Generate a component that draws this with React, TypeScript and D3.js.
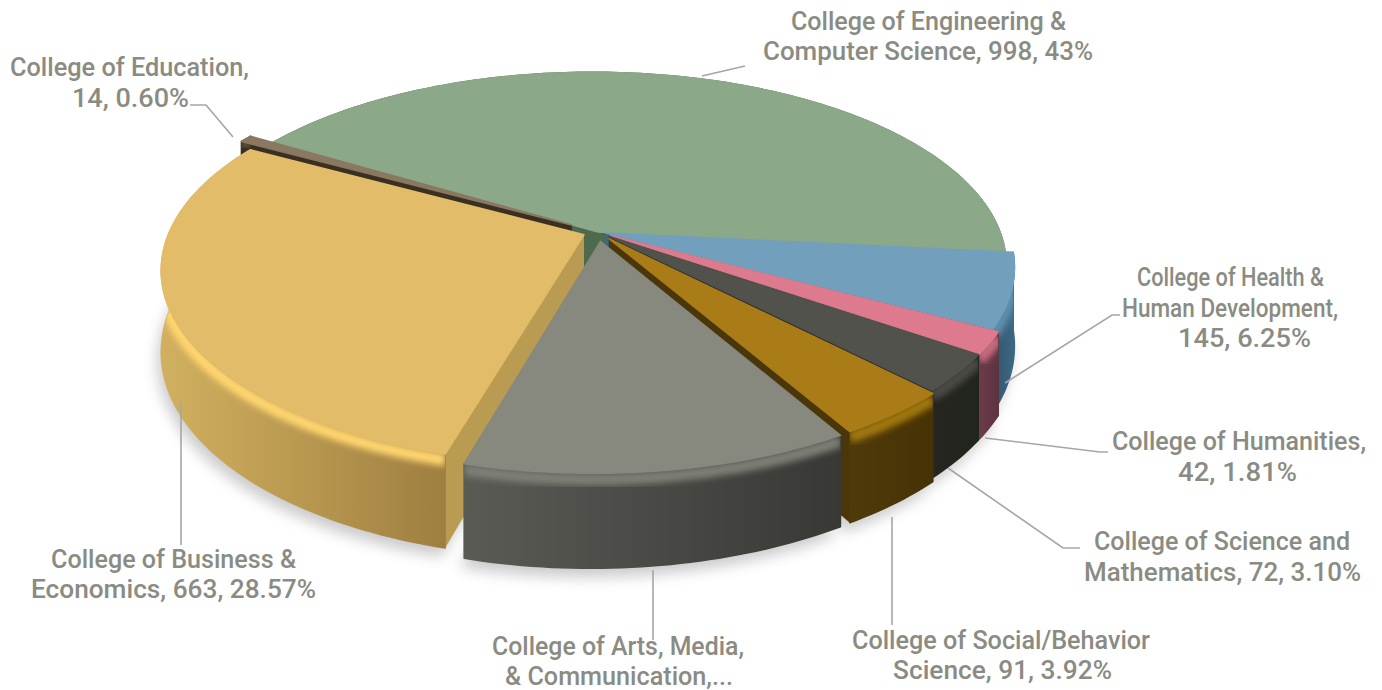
import React from "react";
import * as d3 from "d3";

const categories = [
  "College of Engineering & Computer Science",
  "College of Health & Human Development",
  "College of Humanities",
  "College of Science and Mathematics",
  "College of Social/Behavior Science",
  "College of Arts, Media, & Communication",
  "College of Business & Economics",
  "College of Education",
];
const values = [998, 145, 42, 72, 91, 295, 663, 14];
const topColors = ["#8ba888", "#72a0bc", "#de7a8e", "#50524b", "#a97c18", "#87887e", "#e2bc68", "#8a7860"];
const wallLeft = ["#4d6a4c", "#31556e", "#6c3c4a", "#24261f", "#4f3a0a", "#5a5b55", "#d2b060", "#3a3022"];
const wallRight = ["#4d6a4c", "#3c6883", "#5c3340", "#22241e", "#473206", "#383835", "#9f7f40", "#3a3022"];
const radialColors = ["#4d6a4c", "#3c6883", "#5c3340", "#25282a", "#4a3608", "#3f4f48", "#b99b52", "#3a3022"];
const rimColors = ["#7e9a7c", "#5f90ad", "#c96c80", "#4a4c45", "#a27810", "#7e7f76", "#ffd66e", "#5a4c3c"];
const explode = [0, 0.02, 0.035, 0.035, 0.045, 0.05, 0.037, 0.075];
const drawOrder = [0, 7, 1, 2, 3, 4, 6, 5];

const labels = [
  { lines: ["College of Engineering &", "Computer Science, 998, 43%"], spans: [[791, 1066], [763, 1093]], base: [30, 60] },
  { lines: ["College of Education,", "14, 0.60%"], spans: [[10, 249], [72, 189]], base: [76, 107] },
  { lines: ["College of Health &", "Human Development,", "145, 6.25%"], spans: [[1137, 1324], [1122, 1338], [1178, 1311]], base: [286, 317, 347] },
  { lines: ["College of Humanities,", "42, 1.81%"], spans: [[1112, 1366], [1178, 1297]], base: [450, 481] },
  { lines: ["College of Science and", "Mathematics, 72, 3.10%"], spans: [[1094, 1350], [1084, 1361]], base: [550, 581] },
  { lines: ["College of Social/Behavior", "Science, 91, 3.92%"], spans: [[852, 1150], [893, 1112]], base: [649, 679] },
  { lines: ["College of Arts, Media,", "& Communication,..."], spans: [[492, 744], [505, 733]], base: [655, 685] },
  { lines: ["College of Business &", "Economics, 663, 28.57%"], spans: [[51, 296], [31, 316]], base: [568, 598] },
];
const leaders: [number, number][][] = [
  [[702, 76], [745, 66]],
  [[190, 105], [206, 105], [233, 137]],
  [[1005, 383], [1112, 315], [1120, 315]],
  [[985, 438], [1100, 452], [1108, 452]],
  [[948, 468], [1063, 548], [1080, 548]],
  [[892, 517], [892, 625]],
  [[653, 570], [653, 640]],
  [[181, 402], [181, 545]],
];

const CX = 598, CY = 232, R = 408, K = 0.46, S = 0.175, T = 0.015, H = 0.19;
const START = (-59 * Math.PI) / 180;

type P = [number, number];
function project(x: number, y: number, z: number): P {
  const w = 1 + S * y + T * x;
  return [CX + (R * x) / w, CY - (R * (K * y + z)) / w];
}

const line = d3.line<P>();

export default function App() {
  const arcs = d3.pie<number>().sort(null).startAngle(START).endAngle(START + 2 * Math.PI)(values);

  const geo = arcs.map((a, i) => {
    const mid = (a.startAngle + a.endAngle) / 2;
    const ex = explode[i] * Math.sin(mid);
    const ey = explode[i] * Math.cos(mid);
    const n = Math.max(4, Math.ceil((a.endAngle - a.startAngle) / 0.02));
    const angles = d3.range(n + 1).map((j) => a.startAngle + ((a.endAngle - a.startAngle) * j) / n);
    const at = (t: number, z: number) => project(ex + Math.sin(t), ey + Math.cos(t), z);
    const topArc = angles.map((t) => at(t, 0));
    const botArc = angles.map((t) => at(t, -H));
    const rimArc = angles.map((t) => at(t, -0.012));
    const apexT = project(ex, ey, 0);
    const apexB = project(ex, ey, -H);
    const xs = topArc.map((p) => p[0]);
    return { i, topArc, botArc, rimArc, apexT, apexB, x0: d3.min(xs)!, x1: d3.max(xs)! };
  });

  return (
    <svg width={1382} height={690} style={{ position: "absolute", left: 0, top: 0, background: "#fff" }}>
      <defs>
        <filter id="shadow" x="-20%" y="-20%" width="140%" height="140%">
          <feGaussianBlur stdDeviation="7" />
        </filter>
        <filter id="rim" x="-20%" y="-20%" width="140%" height="140%">
          <feGaussianBlur stdDeviation="3.2" />
        </filter>
        {geo.map((g) => (
          <linearGradient key={g.i} id={`wall${g.i}`} gradientUnits="userSpaceOnUse" x1={g.x0} x2={g.x1} y1={0} y2={0}>
            <stop offset="0" stopColor={wallLeft[g.i]} />
            <stop offset="1" stopColor={wallRight[g.i]} />
          </linearGradient>
        ))}
        {geo.map((g) => (
          <clipPath key={g.i} id={`clip${g.i}`}>
            <path d={line([...g.topArc, ...[...g.botArc].reverse()])! + "Z"} />
          </clipPath>
        ))}
      </defs>

      <g filter="url(#shadow)" opacity={0.3} transform="translate(-4,9)">
        {geo.map((g) => (
          <path key={g.i} d={line([g.apexB, ...g.botArc])! + "Z"} fill="#555" />
        ))}
      </g>

      {drawOrder.map((i) => {
        const g = geo[i];
        const n = g.topArc.length - 1;
        const wall = line([...g.topArc, ...[...g.botArc].reverse()])! + "Z";
        return (
          <g key={i}>
            <path d={line([g.apexT, g.topArc[0], g.botArc[0], g.apexB])! + "Z"} fill={radialColors[i]} />
            <path d={line([g.apexT, g.topArc[n], g.botArc[n], g.apexB])! + "Z"} fill={radialColors[i]} />
            <path d={wall} fill={`url(#wall${i})`} stroke={`url(#wall${i})`} strokeWidth={1.5} strokeLinejoin="round" />
            <g clipPath={`url(#clip${i})`}>
              <path d={line(g.rimArc)!} fill="none" stroke={rimColors[i]} strokeWidth={12} filter="url(#rim)" />
            </g>
            <path d={line([g.apexT, ...g.topArc])! + "Z"} fill={topColors[i]} stroke={topColors[i]} strokeWidth={1.5} strokeLinejoin="round" />
          </g>
        );
      })}

      {leaders.map((pts, i) => (
        <path key={i} d={line(pts)!} fill="none" stroke="#a6a6a6" strokeWidth={1.6} />
      ))}

      {labels.map((l, i) => (
        <g key={i}>
          {l.lines.map((t, j) => (
            <text
              key={j}
              x={l.spans[j][0]}
              y={l.base[j]}
              textLength={l.spans[j][1] - l.spans[j][0]}
              lengthAdjust="spacingAndGlyphs"
              fontFamily="Roboto, 'Liberation Sans', sans-serif"
              fontSize={26}
              fontWeight={500}
              fill="#8a8b82"
            >
              {t}
            </text>
          ))}
        </g>
      ))}
    </svg>
  );
}
